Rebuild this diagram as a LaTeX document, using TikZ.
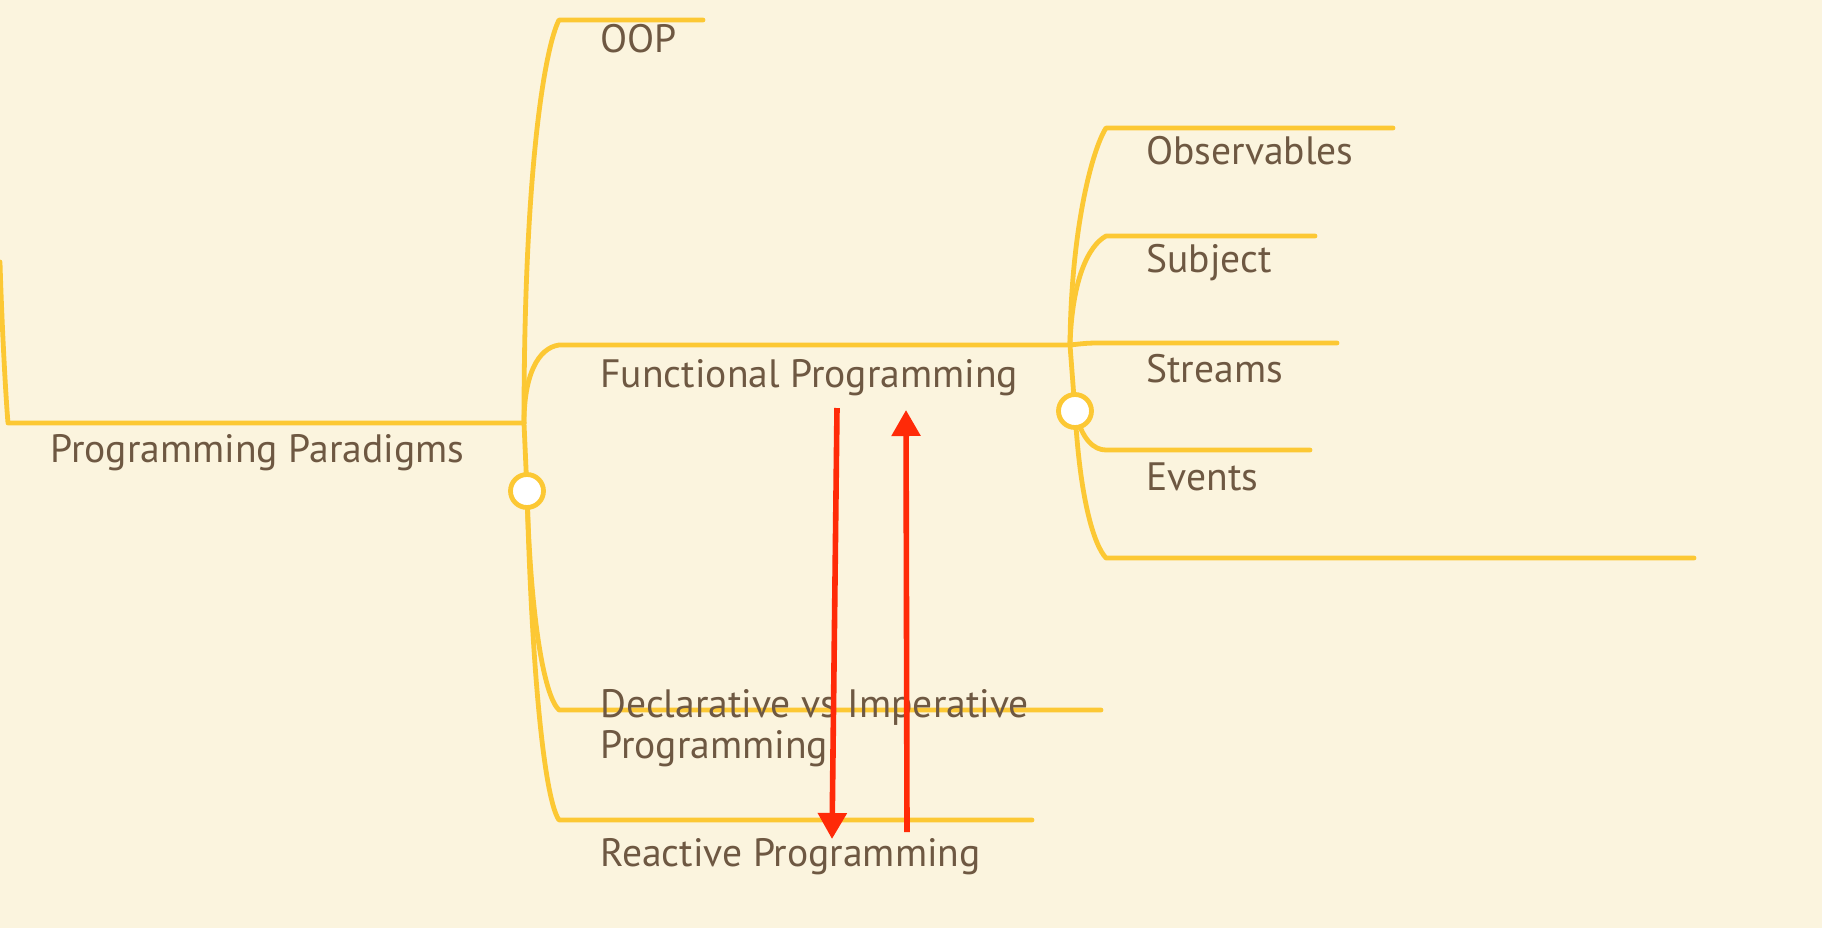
\documentclass[tikz,border=0pt]{standalone}
\usepackage{fontspec}
\setmainfont{PT Sans}
\usepackage{tikz}
\usetikzlibrary{arrows.meta, positioning}
\definecolor{paper}{RGB}{251,244,222}
\definecolor{branchyellow}{RGB}{252,200,52}
\definecolor{inkbrown}{RGB}{110,88,66}
\definecolor{linkred}{RGB}{255,42,8}

\begin{document}
\begin{tikzpicture}[
    x=0.5pt, y=-0.5pt,
    every node/.style={font=\fontsize{19.8}{20.5}\selectfont, text=inkbrown},
    topic/.style={anchor=base west, inner sep=0pt, align=left},
    branch/.style={draw=branchyellow, line width=2.4pt, line cap=round, line join=round},
    toggle/.style={circle, draw=branchyellow, fill=white, line width=2.4pt, minimum size=16.5pt, inner sep=0pt},
    link/.style={draw=linkred, line width=2.8pt, -{Triangle[width=14pt,length=13pt]}},
]
    % Canvas
    \fill[paper] (0,0) rectangle (1822,928);
    \useasboundingbox (0,0) rectangle (1822,928);

    % Root topic
    \coordinate (up) at (0,262);
    \coordinate (rootS) at (8,423);
    \coordinate (rootE) at (524,423);
    \draw[branch] (up) .. controls (2,330) and (6,400) .. (rootS) -- (rootE);
    \node[topic] (root) at (50,462) {Programming Paradigms};

    % Children of the root
    \coordinate (oopS) at (559,20);
    \coordinate (funS) at (559,345);
    \coordinate (decS) at (559,710);
    \coordinate (reaS) at (559,820);
    \coordinate (c0pos) at (527,491);
    \draw[branch] (rootE) .. controls (524,160) and (546,45) .. (oopS) -- ++(144,0);
    \draw[branch] (rootE) .. controls (524,375) and (538,348) .. (funS) -- ++(511,0) coordinate (funE);
    \draw[branch] (rootE) -- (c0pos);
    \draw[branch] (c0pos) .. controls (530,610) and (543,695) .. (decS) -- ++(542,0);
    \draw[branch] (c0pos) .. controls (532,680) and (545,800) .. (reaS) -- ++(473,0);
    \node[toggle] (c0) at (c0pos) {};

    \node[topic] (oop) at (600,52) {OOP};
    \node[topic] (fun) at (600,387) {Functional Programming};
    \node[topic] (dec) at (600,758) {Declarative vs Imperative\\Programming};
    \node[topic] (rea) at (600,866) {Reactive Programming};

    % Children of Functional Programming
    \coordinate (obsS) at (1106,128);
    \coordinate (subS) at (1106,236);
    \coordinate (strS) at (1106,343);
    \coordinate (evtS) at (1106,450);
    \coordinate (blkS) at (1106,558);
    \coordinate (c1pos) at (1075,411);
    \draw[branch] (funE) .. controls (1071,230) and (1092,150) .. (obsS) -- ++(287,0);
    \draw[branch] (funE) .. controls (1072,280) and (1088,246) .. (subS) -- ++(209,0);
    \draw[branch] (funE) .. controls (1088,343) .. (strS) -- ++(231,0);
    \draw[branch] (funE) -- (c1pos);
    \draw[branch] (c1pos) .. controls (1082,440) and (1094,450) .. (evtS) -- ++(204,0);
    \draw[branch] (c1pos) .. controls (1080,500) and (1094,545) .. (blkS) -- ++(588,0);
    \node[toggle] (c1) at (c1pos) {};

    \node[topic] (obs) at (1146,164) {Observables};
    \node[topic] (sub) at (1146,272) {Subject};
    \node[topic] (str) at (1146,382) {Streams};
    \node[topic] (evt) at (1146,490) {Events};

    % Links between Functional and Reactive
    \coordinate (dnA) at (837,408);
    \coordinate (dnB) at (832,839);
    \coordinate (upA) at (907,832);
    \coordinate (upB) at (906,410);
    \draw[link] (dnA) -- (dnB);
    \draw[link] (upA) -- (upB);
\end{tikzpicture}
\end{document}
